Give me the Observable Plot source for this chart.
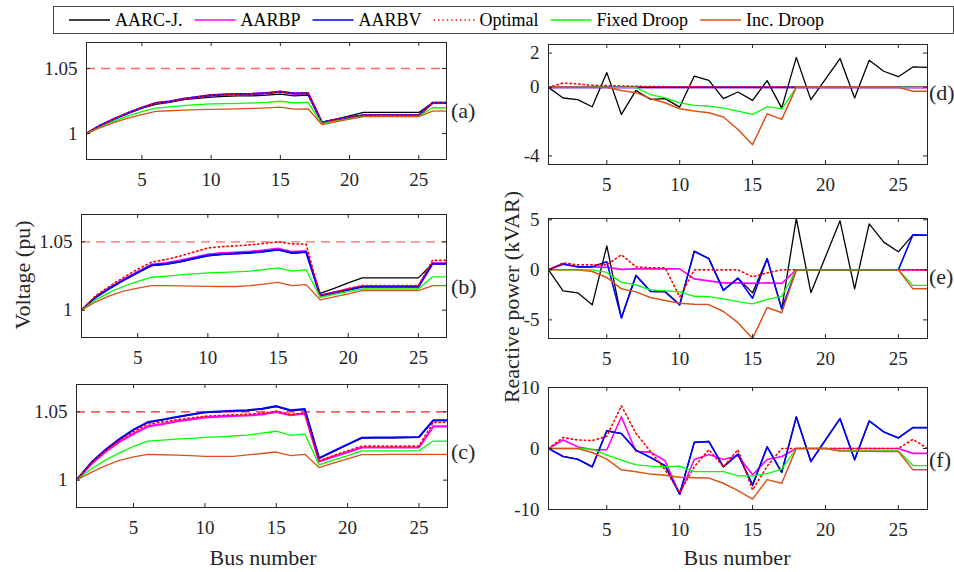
<!DOCTYPE html>
<html><head><meta charset="utf-8">
<script src="https://cdn.jsdelivr.net/npm/d3@7"></script>
<script src="https://cdn.jsdelivr.net/npm/@observablehq/plot@0.6"></script>
<style>
body{margin:0;background:#fff;}
#root{position:relative;width:954px;height:572px;overflow:hidden;background:#fff;font-family:"Liberation Serif","Times New Roman",serif;}
</style></head><body><div id="root"></div>
<script>
const buses = d3.range(1, 28);
const seriesNames = ["AARC-J.", "AARBP", "AARBV", "Optimal", "Fixed Droop", "Inc. Droop"];
const seriesColors = ["#000000", "#ff00ff", "#0000ff", "#ff0000", "#00ff00", "#d95319"];
const xTicks = [5, 10, 15, 20, 25];
const voltTicks = [1, 1.05];
const voltLimit = 1.05;
const dTicks = [-4, 0, 2];
const eTicks = [-5, 0, 5];
const fTicks = [-10, 0, 10];

// ---- Panel (a): voltage
const aBlack  = [1.000,1.006,1.011,1.0155,1.0195,1.0225,1.024,1.026,1.027,1.028,1.0285,1.029,1.029,1.0295,1.0303,1.029,1.0295,1.0087,1.011,1.0135,1.0162,1.0162,1.0162,1.0162,1.0162,1.0236,1.0236];
const aPink   = [1.000,1.0062,1.0112,1.0158,1.0198,1.0234,1.0246,1.0266,1.028,1.0295,1.030,1.0303,1.0305,1.031,1.0322,1.0307,1.031,1.0084,1.0105,1.0125,1.014,1.014,1.014,1.014,1.014,1.0236,1.0236];
const aBlue   = [1.000,1.0062,1.0112,1.0158,1.0198,1.0234,1.0246,1.0266,1.028,1.0295,1.030,1.0303,1.0305,1.031,1.0322,1.0307,1.031,1.0084,1.0105,1.0125,1.014,1.014,1.014,1.014,1.014,1.0236,1.0236];
const aOpt    = [1.000,1.0062,1.0112,1.0158,1.0198,1.0234,1.0246,1.0266,1.028,1.0295,1.030,1.0303,1.0305,1.031,1.0322,1.0307,1.031,1.0084,1.0105,1.0125,1.014,1.014,1.014,1.014,1.014,1.0236,1.0236];
const aGreen  = [1.000,1.005,1.0095,1.0135,1.0168,1.0195,1.0205,1.0215,1.0222,1.0228,1.023,1.0232,1.0235,1.024,1.0248,1.0236,1.024,1.0076,1.0095,1.0115,1.0132,1.0132,1.0132,1.0132,1.0132,1.0198,1.0198];
const aOrange = [1.000,1.0045,1.0085,1.0118,1.0146,1.017,1.0175,1.018,1.0183,1.0186,1.0188,1.019,1.0193,1.0197,1.0203,1.0187,1.019,1.0069,1.009,1.011,1.013,1.013,1.013,1.013,1.013,1.0172,1.0172];

// ---- Panel (b): voltage
const bBlack  = [1.000,1.0094,1.016,1.022,1.0275,1.0326,1.0336,1.0353,1.0376,1.0398,1.0408,1.0413,1.0418,1.0428,1.0441,1.0417,1.0424,1.0123,1.016,1.020,1.0236,1.0236,1.0236,1.0236,1.0236,1.034,1.034];
const bPink   = [1.000,1.0096,1.0163,1.0224,1.028,1.0334,1.0344,1.0362,1.0385,1.0407,1.0417,1.0422,1.0428,1.0438,1.045,1.0426,1.0432,1.0108,1.013,1.0152,1.0174,1.0174,1.0174,1.0174,1.0174,1.0343,1.0343];
const bBlue   = [1.000,1.0094,1.016,1.022,1.0275,1.0328,1.0338,1.0355,1.0378,1.0400,1.041,1.0415,1.042,1.043,1.0443,1.0419,1.0426,1.0106,1.0128,1.015,1.0172,1.0172,1.0172,1.0172,1.0172,1.034,1.034];
const bOpt    = [1.000,1.0105,1.0175,1.024,1.030,1.0352,1.037,1.0395,1.0425,1.0455,1.0465,1.047,1.0478,1.0488,1.050,1.0485,1.0483,1.0106,1.013,1.0158,1.018,1.018,1.018,1.018,1.018,1.0364,1.0364];
const bGreen  = [1.000,1.0075,1.013,1.0175,1.021,1.0241,1.0248,1.0258,1.0266,1.0273,1.0277,1.028,1.0285,1.0297,1.031,1.0286,1.0296,1.0094,1.0115,1.0135,1.0155,1.0155,1.0155,1.0155,1.0155,1.0244,1.0244];
const bOrange = [1.000,1.006,1.0105,1.014,1.0162,1.018,1.018,1.0178,1.0176,1.0174,1.0173,1.0173,1.018,1.019,1.0204,1.018,1.0187,1.0076,1.0098,1.012,1.0143,1.0143,1.0143,1.0143,1.0143,1.018,1.018];

// ---- Panel (c): voltage
const cBlack  = [1.000,1.0123,1.0217,1.0297,1.0367,1.0422,1.044,1.046,1.0477,1.0494,1.05,1.0505,1.0509,1.052,1.0539,1.0509,1.0517,1.0159,1.0209,1.0259,1.0308,1.0309,1.031,1.0311,1.0313,1.0435,1.0435];
const cPink   = [1.000,1.0115,1.0205,1.028,1.034,1.0393,1.041,1.043,1.0445,1.046,1.0465,1.047,1.0473,1.0482,1.050,1.0475,1.0488,1.0137,1.0172,1.0205,1.0239,1.0239,1.0239,1.0239,1.0239,1.0393,1.0393];
const cBlue   = [1.000,1.0125,1.022,1.030,1.037,1.0425,1.0443,1.0463,1.048,1.0497,1.0503,1.0508,1.0512,1.0523,1.0542,1.0512,1.052,1.0162,1.0212,1.0262,1.0311,1.0312,1.0313,1.0314,1.0316,1.0438,1.0438];
const cOpt    = [1.000,1.012,1.0213,1.029,1.0355,1.041,1.0425,1.0442,1.0455,1.0468,1.0473,1.0478,1.0482,1.049,1.0505,1.048,1.0492,1.0142,1.018,1.0215,1.0249,1.0249,1.0249,1.0249,1.0249,1.0423,1.0423];
const cGreen  = [1.000,1.008,1.0145,1.020,1.0248,1.0286,1.0293,1.0300,1.0306,1.0313,1.0317,1.0323,1.033,1.0344,1.0358,1.0328,1.0338,1.0112,1.0146,1.018,1.0214,1.0214,1.0215,1.0215,1.0216,1.0286,1.0286];
const cOrange = [1.000,1.0055,1.0105,1.0145,1.017,1.0189,1.0186,1.0183,1.018,1.0174,1.0174,1.0174,1.0185,1.0195,1.0206,1.0179,1.0189,1.0092,1.0124,1.0156,1.0187,1.0187,1.0188,1.0188,1.0189,1.0189,1.0189];

// ---- Panel (d): reactive power
const dBlack  = [0,-0.62,-0.72,-1.13,0.86,-1.58,-0.18,-0.7,-0.66,-1.15,0.66,0.41,-0.66,-0.27,-0.76,0.39,-1.21,1.75,-0.72,0.48,1.68,-0.62,1.58,0.94,0.62,1.19,1.17];
const dPink   = [0,0,0,0,0,0,0,0,0,0,0,0,0,0,0,0,0,0,0,0,0,0,0,0,0,0,0];
const dBlue   = [0,0,0,0,0,0,0,0,0,0,0,0,0,0,0,0,0,0,0,0,0,0,0,0,0,0,0];
const dOpt    = [0,0.25,0.2,0.12,0.1,0.08,0.06,0.05,0.04,0.03,0.03,0.02,0.02,0.02,0.02,0.02,0.02,0,0,0,0,0,0,0,0,0,0];
const dGreen  = [0,0,0,0,0,0,0,-0.43,-0.62,-0.9,-1.05,-1.09,-1.21,-1.38,-1.58,-1.13,-1.25,0,0,0,0,0,0,0,0,0,0];
const dOrange = [0,0,0,0,0,-0.18,-0.31,-0.66,-0.9,-1.25,-1.38,-1.48,-1.73,-2.46,-3.35,-1.54,-1.87,0,0,0,0,0,0,0,0,-0.23,-0.23];

// ---- Panel (e): reactive power
const eBlack  = [0,-2.1,-2.3,-3.5,2.4,-4.8,-0.56,-2.15,-2.18,-3.5,1.85,1.12,-2.05,-0.83,-2.3,1.12,-3.9,5.13,-2.28,1.3,4.9,-1.9,4.6,2.77,1.8,3.5,3.45];
const ePink   = [0,0.55,0.3,0.3,0.25,0.05,0.1,0.1,0.1,0.1,-0.9,-1.1,-1.3,-1.3,-1.35,-1.3,-1.35,0,0,0,0,0,0,0,0,0,0];
const eBlue   = [0,0.6,0.3,0.3,0.8,-4.8,-0.56,-2.15,-2.18,-3.5,1.85,1.12,-2.05,-0.83,-2.84,1.12,-3.9,0,0,0,0,0,0,0,0,3.5,3.45];
const eOpt    = [0,0.7,0.5,0.5,0.5,1.5,0.3,0.2,0.2,-2.7,0,0,0,0,-0.7,-0.3,0,0,0,0,0,0,0,0,0,0,0];
const eGreen  = [0,0,0,0,-0.26,-1.25,-1.5,-2.0,-2.1,-2.2,-2.64,-2.67,-2.9,-3.17,-3.4,-2.94,-2.64,0,0,0,0,0,0,0,0,-1.55,-1.55];
const eOrange = [0,0,0,-0.16,-0.76,-1.9,-2.2,-2.77,-3.07,-3.33,-3.43,-3.47,-4.16,-5.28,-6.86,-3.76,-4.29,0,0,0,0,0,0,0,0,-1.9,-1.9];

// ---- Panel (f): reactive power
const fBlack  = [0,-1.3,-1.75,-3.0,2.9,2.45,-0.27,-1.47,-2.83,-7.47,1.0,1.15,-3.0,-0.93,-6.1,0.27,-3.92,5.18,-2.13,1.4,4.9,-1.85,4.52,2.72,1.74,3.43,3.43];
const fPink   = [0,1.4,0.3,-0.2,-0.2,5.2,-0.5,-0.6,-2.0,-7.5,-1.8,-1.0,-1.8,-1.2,-4.3,-1.8,-1.3,0,0,0,0,0,0,0,0,-0.8,-0.8];
const fBlue   = [0,-1.3,-1.75,-3.0,2.9,2.45,-0.27,-1.47,-2.83,-7.47,1.0,1.15,-3.0,-0.93,-5.94,0.27,-3.92,5.18,-2.13,1.4,4.9,-1.85,4.52,2.72,1.74,3.43,3.43];
const fOpt    = [0,1.8,1.4,1.3,2.0,7.0,2.5,-0.5,-3.5,-7.2,-3.0,-0.2,-3.0,-0.2,-6.8,-2.9,0,0,0,0,0,0,0,0,0,1.5,0];
const fGreen  = [0,0,0,-0.1,-1.1,-1.9,-2.7,-2.9,-3.0,-2.9,-3.8,-3.8,-3.8,-4.5,-4.5,-4.1,-3.4,0,0,0,-0.4,-0.4,-0.4,-0.4,-0.4,-2.8,-2.8];
const fOrange = [0,0,0,-0.65,-1.75,-3.5,-3.8,-4.2,-4.4,-4.7,-4.8,-4.85,-5.7,-6.9,-8.3,-5.1,-5.7,0,0,0,-0.4,-0.45,-0.45,-0.5,-0.5,-3.5,-3.5];

const root = document.getElementById("root");
const AX = "#262626";
const SERIF = '"Liberation Serif","Times New Roman",serif';

function panel({series, yDomain, yTicks, box, limit, limitOpacity, widths}) {
  const [x0, x1, y0, y1] = box;
  const mL = 60, mR = 12, mT = 6, mB = 34;
  const w = x1 - x0, h = y1 - y0;
  const marks = [];
  if (limit != null) {
    marks.push(Plot.ruleY([limit], {stroke: "#ff0000", strokeOpacity: limitOpacity, strokeWidth: 1.4, strokeDasharray: "9,6"}));
  }
  series.forEach((vals, i) => {
    const rows = buses.map((b, j) => ({bus: b, v: vals[j]}));
    marks.push(Plot.line(rows, {
      x: "bus", y: "v", stroke: seriesColors[i], strokeWidth: widths[i],
      strokeDasharray: i === 3 ? "1.4,3" : null, clip: true
    }));
  });
  marks.push(Plot.ruleX(xTicks, {x: d => d, insetTop: h - 4, stroke: AX}));
  marks.push(Plot.ruleX(xTicks, {x: d => d, insetBottom: h - 4, stroke: AX}));
  marks.push(Plot.ruleY(yTicks, {y: d => d, insetRight: w - 4, stroke: AX}));
  marks.push(Plot.ruleY(yTicks, {y: d => d, insetLeft: w - 4, stroke: AX}));
  marks.push(Plot.frame({stroke: AX, strokeWidth: 1}));
  marks.push(Plot.axisX({ticks: xTicks, tickSize: 0, tickPadding: 13, fontSize: 19, label: null, tickFormat: d => String(d)}));
  marks.push(Plot.axisY({ticks: yTicks, tickSize: 0, tickPadding: 9, fontSize: 19, label: null, tickFormat: d => String(d)}));
  const svg = Plot.plot({
    width: w + mL + mR, height: h + mT + mB,
    marginLeft: mL, marginRight: mR, marginTop: mT, marginBottom: mB,
    x: {domain: [1, 27], label: null},
    y: {domain: yDomain, label: null},
    style: {fontFamily: SERIF, fontSize: "19px", color: AX, background: "transparent", overflow: "visible"},
    marks
  });
  svg.style.position = "absolute";
  svg.style.left = (x0 - mL) + "px";
  svg.style.top = (y0 - mT) + "px";
  root.appendChild(svg);
}

const vWidths = [1.3, 2.2, 2.0, 1.6, 1.3, 1.3];
const qWidths = [1.3, 1.6, 1.6, 1.6, 1.3, 1.5];

panel({series: [aBlack, aPink, aBlue, aOpt, aGreen, aOrange], yDomain: [0.98, 1.07], yTicks: voltTicks, box: [86, 446, 42, 159], limit: voltLimit, limitOpacity: 0.6, widths: vWidths});
panel({series: [bBlack, bPink, bBlue, bOpt, bGreen, bOrange], yDomain: [0.98, 1.07], yTicks: voltTicks, box: [81, 446, 214, 337], limit: voltLimit, limitOpacity: 0.6, widths: vWidths});
panel({series: [cBlack, cPink, cBlue, cOpt, cGreen, cOrange], yDomain: [0.98, 1.07], yTicks: voltTicks, box: [76, 447, 384, 507], limit: voltLimit, limitOpacity: 0.9, widths: vWidths});
panel({series: [dBlack, dPink, dBlue, dOpt, dGreen, dOrange], yDomain: [-4.5, 2.5], yTicks: dTicks, box: [548, 927, 44, 164], widths: qWidths});
panel({series: [eBlack, ePink, eBlue, eOpt, eGreen, eOrange], yDomain: [-6.86, 5.13], yTicks: eTicks, box: [548, 927, 218, 338], widths: qWidths});
panel({series: [fBlack, fPink, fBlue, fOpt, fGreen, fOrange], yDomain: [-10, 10], yTicks: fTicks, box: [548, 927, 387, 509], widths: qWidths});

// ---- overlay text: legend, axis titles, panel labels
const ov = d3.select(root).append("svg")
  .attr("width", 954).attr("height", 572)
  .style("position", "absolute").style("left", "0px").style("top", "0px")
  .style("font-family", SERIF)
  .style("pointer-events", "none");

ov.append("rect").attr("x", 53.5).attr("y", 6.5).attr("width", 900).attr("height", 27)
  .attr("fill", "#fff").attr("stroke", "#444").attr("stroke-width", 1);

let lx = 69;
seriesNames.forEach((name, i) => {
  ov.append("line").attr("x1", lx).attr("x2", lx + 41).attr("y1", 20).attr("y2", 20)
    .attr("stroke", seriesColors[i]).attr("stroke-width", 1.5)
    .attr("stroke-dasharray", i === 3 ? "1.4,3" : null);
  const t = ov.append("text").attr("x", lx + 46).attr("y", 20).attr("dy", "0.35em")
    .attr("font-size", 18).attr("fill", "#000").text(name);
  lx += 46 + t.node().getComputedTextLength() + 12;
});

ov.append("text").attr("transform", "translate(22,275) rotate(-90)").attr("text-anchor", "middle")
  .attr("dy", "0.35em").attr("font-size", 22).attr("fill", AX).text("Voltage (pu)");
ov.append("text").attr("transform", "translate(511,297) rotate(-90)").attr("text-anchor", "middle")
  .attr("dy", "0.35em").attr("font-size", 22).attr("fill", AX).text("Reactive power (kVAR)");
ov.append("text").attr("x", 263).attr("y", 565).attr("text-anchor", "middle")
  .attr("font-size", 22).attr("fill", AX).text("Bus number");
ov.append("text").attr("x", 737).attr("y", 565).attr("text-anchor", "middle")
  .attr("font-size", 22).attr("fill", AX).text("Bus number");

const panelLabels = [["(a)", 451, 110], ["(b)", 451, 286], ["(c)", 451, 451], ["(d)", 929, 92], ["(e)", 929, 276], ["(f)", 929, 459]];
panelLabels.forEach(([s, x, y]) => {
  ov.append("text").attr("x", x).attr("y", y).attr("dy", "0.35em")
    .attr("font-size", 22).attr("fill", AX).text(s);
});
</script>
</body></html>
